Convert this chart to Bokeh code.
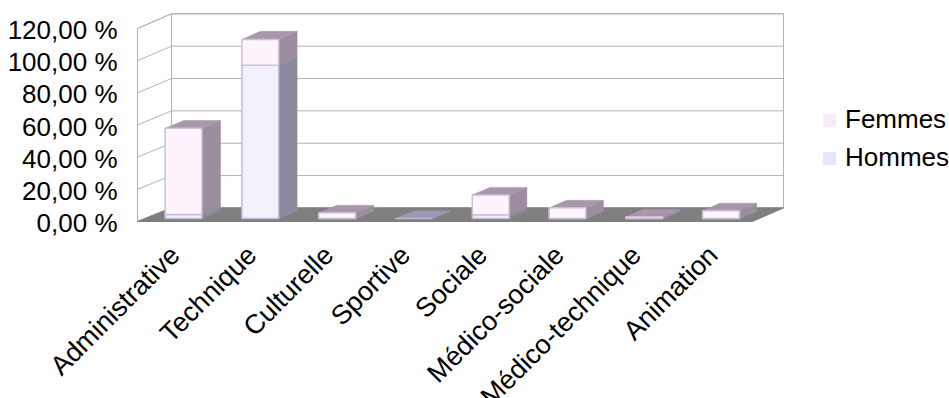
import numpy as np
from bokeh.plotting import figure
from bokeh.models import Range1d, ColumnDataSource, Legend, LegendItem
from bokeh.core.properties import value
from bokeh.embed import file_html
from bokeh.resources import INLINE

# ---- data -------------------------------------------------------------
categories = ["Administrative", "Technique", "Culturelle", "Sportive",
              "Sociale", "Médico-sociale", "Médico-technique", "Animation"]
hommes = [2.5, 95.2, 0.0, 0.0, 2.3, 0.0, 0.0, 0.0]
femmes = [53.5, 16.0, 3.5, 0.0, 12.3, 6.6, 1.0, 4.8]
series_names = ["Femmes", "Hommes"]
y_ticks = [0, 20, 40, 60, 80, 100, 120]
y_tick_labels = ["0,00 %", "20,00 %", "40,00 %", "60,00 %",
                 "80,00 %", "100,00 %", "120,00 %"]

# ---- oblique 3D projection (front-plane data units) --------------------
DEPTH_DX, DEPTH_DY = 0.4398, 8.458     # shift of the back plane
SLANT_X, SLANT_Y = -0.00488, 0.00591   # slight perspective of the back plane
BAR_HALF = 0.24
Z_FRONT, Z_BACK = 0.225, 0.775
FONT_NAME = "Liberation Sans"
FONT = value(FONT_NAME)


def px(u, z):
    return u + z * (DEPTH_DX + SLANT_X * u)


def py(v, z):
    return v + z * (DEPTH_DY + SLANT_Y * v)


n = len(categories)
u_lo, u_hi = -0.5, n - 0.5
v_top = y_ticks[-1]

p = figure(width=949, height=398, output_backend="svg", toolbar_location=None,
           x_axis_type=None, y_axis_type=None,
           x_range=Range1d(-2.2821, 10.0626), y_range=Range1d(-110.07, 137.44),
           min_border=0, outline_line_color=None, background_fill_color="white")

WALL_LINE = "#b3b3b3"

# back wall
p.quad(left=[px(u_lo, 1)], right=[px(u_hi, 1)], bottom=[py(0, 1)], top=[py(v_top, 1)],
       fill_color="white", line_color=WALL_LINE, line_width=1)
p.segment(x0=[px(u_lo, 1)] * len(y_ticks), y0=[py(t, 1) for t in y_ticks],
          x1=[px(u_hi, 1)] * len(y_ticks), y1=[py(t, 1) for t in y_ticks],
          line_color=WALL_LINE, line_width=1)

# left wall
p.patch(x=[px(u_lo, 0), px(u_lo, 1), px(u_lo, 1), px(u_lo, 0)],
        y=[py(0, 0), py(0, 1), py(v_top, 1), py(v_top, 0)],
        fill_color="white", line_color=WALL_LINE, line_width=1)
p.segment(x0=[px(u_lo, 0)] * len(y_ticks), y0=[py(t, 0) for t in y_ticks],
          x1=[px(u_lo, 1)] * len(y_ticks), y1=[py(t, 1) for t in y_ticks],
          line_color=WALL_LINE, line_width=1)

# floor
p.patch(x=[px(u_lo, 0), px(u_hi, 0), px(u_hi, 1), px(u_lo, 1)],
        y=[py(0, 0), py(0, 0), py(0, 1), py(0, 1)],
        fill_color="#7f7f7f", line_color="#7f7f7f", line_width=1)


def boxes(bottoms, tops, keep):
    side_x, side_y, top_x, top_y, fronts = [], [], [], [], dict(l=[], r=[], b=[], t=[])
    for i, (b, t) in enumerate(zip(bottoms, tops)):
        if not keep[i]:
            continue
        l, r = i - BAR_HALF, i + BAR_HALF
        side_x.append([px(r, Z_FRONT), px(r, Z_BACK), px(r, Z_BACK), px(r, Z_FRONT)])
        side_y.append([py(b, Z_FRONT), py(b, Z_BACK), py(t, Z_BACK), py(t, Z_FRONT)])
        top_x.append([px(l, Z_FRONT), px(r, Z_FRONT), px(r, Z_BACK), px(l, Z_BACK)])
        top_y.append([py(t, Z_FRONT), py(t, Z_FRONT), py(t, Z_BACK), py(t, Z_BACK)])
        fronts["l"].append(px(l, Z_FRONT))
        fronts["r"].append(px(r, Z_FRONT))
        fronts["b"].append(py(b, Z_FRONT))
        fronts["t"].append(py(t, Z_FRONT))
    return side_x, side_y, top_x, top_y, fronts


h_bottom = [0.0] * n
h_top = list(hommes)
f_bottom = list(hommes)
f_top = [h + f for h, f in zip(hommes, femmes)]

stack = [
    # (bottoms, tops, drawn?, front fill, front edge, side, top)
    (h_bottom, h_top, [True] * n, "#f1f1fc", "#bdbdd9", "#8b8a9d", "#9b9ab0"),
    (f_bottom, f_top, [v > 0 for v in femmes], "#fdf4fd", "#cdbfd8", "#9d8e9f", "#a897aa"),
]

for bottoms, tops, keep, c_front, c_edge, c_side, c_top in stack:
    sx, sy, tx, ty, fr = boxes(bottoms, tops, keep)
    p.patches(xs=sx, ys=sy, fill_color=c_side, line_color=c_side, line_width=0.5)
    p.patches(xs=tx, ys=ty, fill_color=c_top, line_color=c_top, line_width=0.5)
    p.quad(source=ColumnDataSource(dict(left=fr["l"], right=fr["r"], bottom=fr["b"], top=fr["t"])),
           left="left", right="right", bottom="bottom", top="top",
           fill_color=c_front, line_color=c_edge, line_width=1.5)

# value axis labels
p.text(x=[px(u_lo, 0)] * len(y_ticks), y=[py(t, 0) for t in y_ticks], text=y_tick_labels,
       text_align="right", text_baseline="middle", x_offset=-20, y_offset=1.5,
       text_font=FONT, text_font_size="26px", text_color="#000000")

# category labels
p.text(x=[px(i, 0) for i in range(n)], y=[py(0, 0)] * n, text=categories,
       angle=np.pi / 4, text_align="right", text_baseline="middle",
       x_offset=-1, y_offset=29,
       text_font=FONT, text_font_size="27px", text_color="#000000")

# legend swatches (legend-only glyphs, nothing drawn in the plot area)
swatch_src = dict(left=[np.nan], right=[np.nan], bottom=[np.nan], top=[np.nan])
r_f = p.quad(source=ColumnDataSource(swatch_src), left="left", right="right",
             bottom="bottom", top="top", fill_color="#fce8fc", line_color=None)
r_h = p.quad(source=ColumnDataSource(swatch_src), left="left", right="right",
             bottom="bottom", top="top", fill_color="#e5e5fb", line_color=None)
legend = Legend(items=[LegendItem(label=series_names[0], renderers=[r_f]),
                       LegendItem(label=series_names[1], renderers=[r_h])],
                location=(821, 225), orientation="vertical",
                glyph_width=16, glyph_height=16, label_standoff=8, spacing=7,
                padding=0, margin=0, border_line_color=None, background_fill_alpha=0,
                label_text_font=FONT_NAME, label_text_font_size="26px",
                label_text_color="#000000")
p.add_layout(legend)

open("out.html", "w").write(file_html(p, INLINE))
